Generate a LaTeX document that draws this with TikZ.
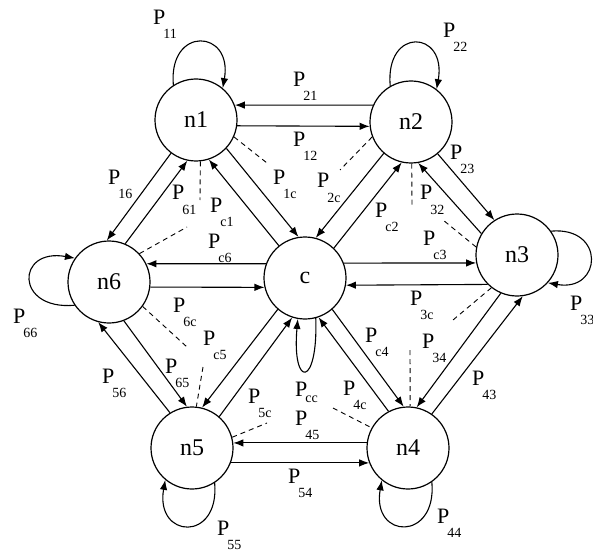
\documentclass[tikz,border=0pt]{standalone}
\usepackage{fontspec}
\setmainfont{Liberation Serif}
\usetikzlibrary{arrows.meta}
\newcommand\Plab[2][14pt]{P\kern-2pt\raisebox{-#1}{\fontsize{14}{14}\selectfont #2}}
\begin{document}
\begin{tikzpicture}[x=1pt,y=-1pt,
  state/.style={circle,draw,line width=1.2pt,minimum size=82pt,inner sep=0pt,font=\fontsize{24}{24}\selectfont},
  tr/.style={line width=1.1pt,-{Latex[length=10pt,width=7.5pt]}},
  dsh/.style={line width=0.9pt,dash pattern=on 5pt off 4pt},
  lab/.style={anchor=base west,inner sep=0pt,font=\fontsize{22}{22}\selectfont}]
\fill[white] (0,0) rectangle (593,553);
\useasboundingbox (0,0) rectangle (593,553);

% states
\node[state] (n1) at (196,120) {n1};
\node[state] (n2) at (411,122) {n2};
\node[state] (n3) at (517,255) {n3};
\node[state] (c)  at (305,278) {c};
\node[state] (n6) at (109,282) {n6};
\node[state] (n5) at (192,448) {n5};
\node[state] (n4) at (408,448) {n4};

% outer ring transitions
\draw[tr] (n2.156) -- (n1.21);
\draw[tr] (n1.-8) -- (n2.186);
\draw[tr] (n2.-50) -- (n3.123);
\draw[tr] (n3.149) -- (n2.-80);
\draw[tr] (n3.-113) -- (n4.78);
\draw[tr] (n4.55) -- (n3.-82);
\draw[tr] (n4.173) -- (n5.7);
\draw[tr] (n5.-21) -- (n4.-159);
\draw[tr] (n5.122) -- (n6.-105);
\draw[tr] (n6.-69) -- (n5.97);
\draw[tr] (n1.-127) -- (n6.93);
\draw[tr] (n6.67) -- (n1.-102);

% spokes
\draw[tr] (n1.-43) -- (c.99);
\draw[tr] (c.129) -- (n1.-72);
\draw[tr] (n2.-131) -- (c.75);
\draw[tr] (c.46) -- (n2.-103);
\draw[tr] (c.21) -- (n3.191);
\draw[tr] (n3.225) -- (c.-10);
\draw[tr] (c.-49) -- (n4.96);
\draw[tr] (n4.118) -- (c.-71);
\draw[tr] (c.-131) -- (n5.76);
\draw[tr] (n5.49) -- (c.-108);
\draw[tr] (c.160) -- (n6.26);
\draw[tr] (n6.-7) -- (c.193);

% self loops
\draw[tr] (n1.123) .. controls +(95:60pt) and +(80:60pt) .. (n1.50);
\draw[tr] (n2.120) .. controls +(95:60pt) and +(80:60pt) .. (n2.52);
\draw[tr] (n3.35) .. controls +(5:55pt) and +(-10:55pt) .. (n3.-42);
\draw[tr] (n4.-55) .. controls +(-85:60pt) and +(-100:60pt) .. (n4.-129);
\draw[tr] (n5.-57) .. controls +(-85:60pt) and +(-100:60pt) .. (n5.-130);
\draw[tr] (n6.214) .. controls +(185:60pt) and +(170:60pt) .. (n6.145);
\draw[tr] (c.-75) .. controls +(-88:70pt) and +(-95:70pt) .. (c.-100);

% dashed segments
\coordinate (d1) at (267,163);
\coordinate (d2) at (340,170);
\coordinate (d3) at (200,200);
\coordinate (d4) at (187,227);
\coordinate (d5) at (412,207);
\coordinate (d6) at (443,220);
\coordinate (d7) at (453,320);
\coordinate (d8) at (410,350);
\coordinate (d9) at (333,408);
\coordinate (d10) at (203,367);
\coordinate (d11) at (267,423);
\coordinate (d12) at (187,347);
\draw[dsh] (n1.-24) -- (d1);
\draw[dsh] (n2.-159) -- (d2);
\draw[dsh] (n1.-84) -- (d3);
\draw[dsh] (n6.43) -- (d4);
\draw[dsh] (n2.-89) -- (d5);
\draw[dsh] (n3.169) -- (d6);
\draw[dsh] (n3.-128) -- (d7);
\draw[dsh] (d8) -- (n4.87);
\draw[dsh] (d9) -- (n4.151);
\draw[dsh] (d10) -- (n5.84);
\draw[dsh] (n5.15) -- (d11);
\draw[dsh] (n6.-36) -- (d12);

% labels
\node[lab] (l11) at (153,25) {\Plab{11}};
\node[lab] (l22) at (443,38) {\Plab{22}};
\node[lab] (l21) at (293,87) {\Plab{21}};
\node[lab] (l12) at (293,147) {\Plab{12}};
\node[lab] (l16) at (108,185) {\Plab{16}};
\node[lab] (l61) at (172,200) {\Plab{61}};
\node[lab] (lc1) at (210,212) {\Plab{c1}};
\node[lab] (l1c) at (273,185) {\Plab{1c}};
\node[lab] (lc6) at (208,248) {\Plab{c6}};
\node[lab] (l2c) at (317,188) {\Plab{2c}};
\node[lab] (lc2) at (375,217) {\Plab{c2}};
\node[lab] (l32) at (420,200) {\Plab{32}};
\node[lab] (l23) at (450,160) {\Plab{23}};
\node[lab] (lc3) at (423,245) {\Plab{c3}};
\node[lab] (l33) at (570,310) {\Plab{33}};
\node[lab] (l3c) at (410,305) {\Plab{3c}};
\node[lab] (l66) at (13,323) {\Plab{66}};
\node[lab] (l6c) at (173,312) {\Plab{6c}};
\node[lab] (lc5) at (203,345) {\Plab{c5}};
\node[lab] (l56) at (102,383) {\Plab{56}};
\node[lab] (l65) at (165,373) {\Plab{65}};
\node[lab] (l5c) at (248,403) {\Plab{5c}};
\node[lab] (l55) at (217,535) {\Plab{55}};
\node[lab] (lc4) at (365,342) {\Plab{c4}};
\node[lab] (l34) at (422,348) {\Plab{34}};
\node[lab] (l43) at (472,385) {\Plab{43}};
\node[lab] (lcc) at (295,396) {\Plab[6pt]{cc}};
\node[lab] (l4c) at (343,395) {\Plab{4c}};
\node[lab] (l45) at (295,425) {\Plab{45}};
\node[lab] (l54) at (288,483) {\Plab{54}};
\node[lab] (l44) at (437,523) {\Plab{44}};
\end{tikzpicture}
\end{document}
